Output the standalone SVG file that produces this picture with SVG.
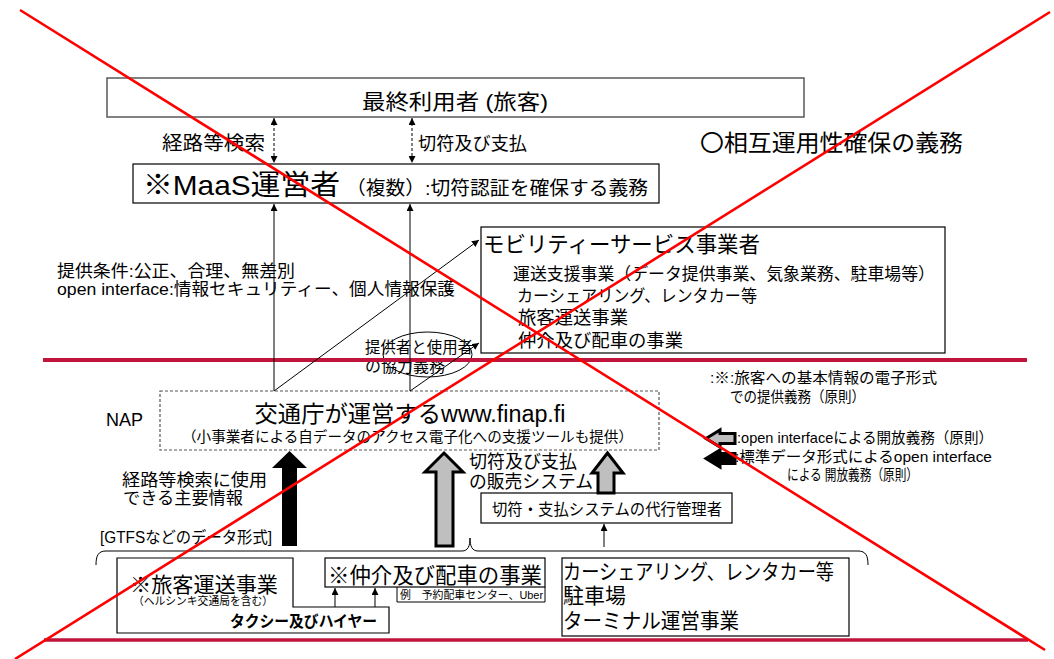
<svg xmlns="http://www.w3.org/2000/svg" width="1054" height="659" viewBox="0 0 1054 659">
<defs>
<style>
text{font-family:"Liberation Sans","Noto Sans CJK JP",sans-serif;fill:#000}
.box{fill:#fff;stroke:#000;stroke-width:1.2}
.thin{fill:none;stroke:#000;stroke-width:1}
.dash{fill:none;stroke:#000;stroke-width:1;stroke-dasharray:3,2}
.bigarrow{stroke:#000;stroke-width:3;stroke-linejoin:miter}
.gray{fill:#bfbfbf}
.blk{fill:#000}
.redx{stroke:#ff0000;stroke-width:2.6;fill:none}
.divider{stroke:#c0143c;fill:none}
</style>
<marker id="ah" viewBox="0 0 10 10" refX="10" refY="5" markerWidth="7" markerHeight="7" markerUnits="userSpaceOnUse" orient="auto-start-reverse">
<path d="M0,0 L10,5 L0,10 z" fill="#000"/>
</marker>
</defs>
<rect width="1054" height="659" fill="#fff"/>

<g id="end-user">
<rect x="107" y="78" width="697" height="39" fill="#fff" stroke="#595959" stroke-width="1.5"/>
<text x="362" y="109" font-size="21" textLength="186" lengthAdjust="spacingAndGlyphs">最終利用者 (旅客)</text>
</g>

<g id="interop">
<text x="700" y="151" font-size="23" textLength="263" lengthAdjust="spacingAndGlyphs">〇相互運用性確保の義務</text>
</g>

<g id="maas">
<rect class="box" x="133" y="164" width="526" height="39"/>
<text x="143" y="195" font-size="28" textLength="197" lengthAdjust="spacingAndGlyphs">※MaaS運営者</text>
<text x="346" y="195" font-size="19" textLength="302" lengthAdjust="spacingAndGlyphs">（複数）:切符認証を確保する義務</text>
</g>

<g id="conditions">
<text x="57" y="277" font-size="17" textLength="238" lengthAdjust="spacingAndGlyphs">提供条件:公正、合理、無差別</text>
<text x="57" y="295" font-size="17" textLength="398" lengthAdjust="spacingAndGlyphs">open interface:情報セキュリティー、個人情報保護</text>
</g>

<g id="mobility">
<rect class="box" x="481" y="227" width="464" height="126"/>
<text x="483" y="252" font-size="22" textLength="277" lengthAdjust="spacingAndGlyphs">モビリティーサービス事業者</text>
<text x="513" y="280" font-size="17" textLength="422" lengthAdjust="spacingAndGlyphs">運送支援事業（データ提供事業、気象業務、駐車場等）</text>
<text x="517" y="302" font-size="17" textLength="240" lengthAdjust="spacingAndGlyphs">カーシェアリング、レンタカー等</text>
<text x="518" y="324" font-size="18" textLength="110" lengthAdjust="spacingAndGlyphs">旅客運送事業</text>
<text x="518" y="347" font-size="18" textLength="165" lengthAdjust="spacingAndGlyphs">仲介及び配車の事業</text>
</g>

<g id="cooperation">
<ellipse cx="427.5" cy="354.5" rx="44.5" ry="22.5" fill="none" stroke="#000" stroke-width="1"/>
<text x="365" y="353" font-size="15.5" textLength="108" lengthAdjust="spacingAndGlyphs">提供者と使用者</text>
<text x="365" y="372" font-size="15.5" textLength="80" lengthAdjust="spacingAndGlyphs">の協力義務</text>
</g>

<g id="dividers">
<line class="divider" x1="43" y1="360" x2="1027" y2="360" stroke-width="4"/>
<line class="divider" x1="44" y1="640" x2="1028" y2="640" stroke-width="3.5"/>
</g>

<g id="basic-info-note">
<text x="710" y="383" font-size="15" textLength="227" lengthAdjust="spacingAndGlyphs">:<tspan font-weight="bold">※</tspan>:旅客への基本情報の電子形式</text>
<text x="730" y="402" font-size="15" textLength="135" lengthAdjust="spacingAndGlyphs">での提供義務（原則）</text>
</g>

<g id="nap">
<text x="106" y="426" font-size="17.5" textLength="37" lengthAdjust="spacingAndGlyphs">NAP</text>
<rect x="160" y="391" width="499" height="59" fill="#fff" stroke="#555" stroke-width="1.2" stroke-dasharray="3,2"/>
<text x="254.5" y="422" font-size="23" textLength="311" lengthAdjust="spacingAndGlyphs">交通庁が運営するwww.finap.fi</text>
<text x="182" y="442" font-size="14.5" textLength="451" lengthAdjust="spacingAndGlyphs">（小事業者による自データのアクセス電子化への支援ツールも提供）</text>
</g>

<g id="legend">
<path class="bigarrow gray" d="M706,438.5 L720,430 L720,433.5 L735,433.5 L735,443.5 L720,443.5 L720,447 Z" stroke-width="2.5"/>
<text x="737" y="443" font-size="15" textLength="256" lengthAdjust="spacingAndGlyphs">:open interfaceによる開放義務（原則）</text>
<path class="bigarrow blk" d="M706,458.5 L720,450 L720,453.5 L735,453.5 L735,463.5 L720,463.5 L720,467 Z" stroke-width="2.5"/>
<text x="735" y="462" font-size="15" textLength="257" lengthAdjust="spacingAndGlyphs">:標準データ形式によるopen interface</text>
<text x="787" y="480" font-size="15" textLength="131" lengthAdjust="spacingAndGlyphs">による 開放義務（原則）</text>
</g>

<g id="route-info-label">
<text x="122" y="486" font-size="16.5" textLength="145" lengthAdjust="spacingAndGlyphs">経路等検索に使用</text>
<text x="123" y="504" font-size="16.5" textLength="120" lengthAdjust="spacingAndGlyphs">できる主要情報</text>
<text x="100" y="543" font-size="16" textLength="172" lengthAdjust="spacingAndGlyphs">[GTFSなどのデータ形式]</text>
</g>

<g id="sales-label">
<text x="469" y="468" font-size="18" textLength="108" lengthAdjust="spacingAndGlyphs">切符及び支払</text>
<text x="469" y="488" font-size="18" textLength="124" lengthAdjust="spacingAndGlyphs">の販売システム</text>
</g>

<g id="ticket-agent">
<rect class="box" x="481" y="493" width="251" height="30"/>
<text x="492" y="515" font-size="16" textLength="230" lengthAdjust="spacingAndGlyphs">切符・支払システムの代行管理者</text>
</g>

<g id="passenger-transport">
<path class="box" d="M117,558 L293,558 L293,607 L389,607 L389,633 L117,633 Z"/>
<text x="130" y="592" font-size="21" textLength="148" lengthAdjust="spacingAndGlyphs">※旅客運送事業</text>
<text x="133" y="605" font-size="11" textLength="140" lengthAdjust="spacingAndGlyphs">（ヘルシンキ交通局を含む）</text>
<text x="230" y="627" font-size="16" font-weight="bold" textLength="147" lengthAdjust="spacingAndGlyphs">タクシー及びハイヤー</text>
</g>

<g id="dispatch">
<rect class="box" x="325" y="558" width="220" height="29"/>
<path class="thin" d="M397,587 L397,602 L545,602 L545,587"/>
<text x="328" y="583" font-size="22" textLength="214" lengthAdjust="spacingAndGlyphs">※仲介及び配車の事業</text>
<text x="400" y="599" font-size="11" textLength="143" lengthAdjust="spacingAndGlyphs">例　予約配車センター、Uber</text>
</g>

<g id="others">
<rect class="box" x="562" y="558" width="287" height="78"/>
<text x="563" y="579" font-size="21" textLength="271" lengthAdjust="spacingAndGlyphs">カーシェアリング、レンタカー等</text>
<text x="563" y="603" font-size="21" textLength="63" lengthAdjust="spacingAndGlyphs">駐車場</text>
<text x="563" y="628" font-size="21" textLength="176" lengthAdjust="spacingAndGlyphs">ターミナル運営事業</text>
</g>

<g id="connectors">
<line class="dash" x1="274" y1="118" x2="274" y2="163" marker-start="url(#ah)" marker-end="url(#ah)"/>
<line class="dash" x1="412" y1="118" x2="412" y2="163" marker-start="url(#ah)" marker-end="url(#ah)"/>
<text x="162" y="150" font-size="19" textLength="103" lengthAdjust="spacingAndGlyphs">経路等検索</text>
<text x="418" y="150" font-size="18" textLength="109" lengthAdjust="spacingAndGlyphs">切符及び支払</text>
<line class="thin" x1="274" y1="391" x2="274" y2="204" marker-end="url(#ah)"/>
<line class="thin" x1="410" y1="391" x2="410" y2="204" marker-end="url(#ah)"/>
<line class="thin" x1="274" y1="391" x2="479" y2="240" marker-end="url(#ah)"/>
<line class="thin" x1="410" y1="391" x2="479" y2="343" marker-end="url(#ah)"/>
<path class="blk" d="M289.5,451 L307,468 L297,468 L297,546 L282,546 L282,468 L272,468 Z"/>
<path class="bigarrow gray" d="M444,453 L463,472 L453,472 L453,546 L436,546 L436,472 L425,472 Z"/>
<path class="bigarrow gray" d="M607.5,453 L623,473 L614,473 L614,493 L598,493 L598,473 L592,473 Z"/>
<line class="thin" x1="604" y1="547" x2="604" y2="524" marker-end="url(#ah)"/>
<path class="thin" d="M96,565 C96,556 98,551 106,551 L462,551 C468,551 470,546 470,538 C470,546 472,551 478,551 L858,551 C866,551 868,556 868,565"/>
<line class="thin" x1="335" y1="607" x2="335" y2="588" marker-end="url(#ah)"/>
<line class="thin" x1="375" y1="607" x2="375" y2="588" marker-end="url(#ah)"/>
</g>

<g id="cross-out">
<line class="redx" x1="20" y1="10" x2="1045" y2="650"/>
<line class="redx" x1="15" y1="659" x2="1050" y2="12"/>
</g>
</svg>
